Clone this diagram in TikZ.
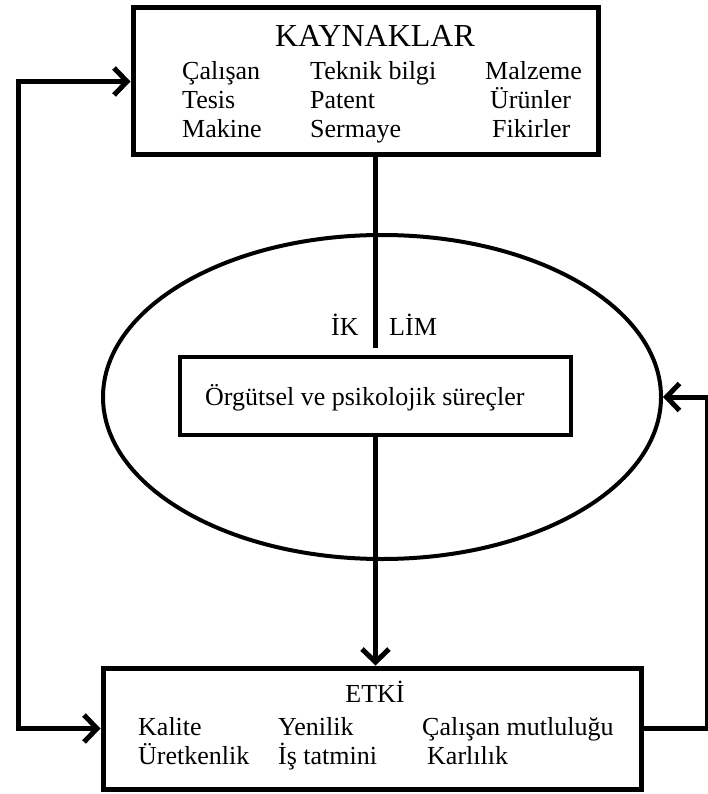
\documentclass[tikz,border=0pt]{standalone}
\usepackage{fontspec}
\setmainfont{Liberation Serif}
\usetikzlibrary{arrows.meta,shapes.geometric}
\begin{document}
\begin{tikzpicture}[x=1pt,y=-1pt,
  box/.style={draw, line width=5pt, inner sep=0pt},
  lbl/.style={anchor=base west, inner sep=0pt, font=\fontsize{26}{30}\selectfont},
  ttl/.style={anchor=base, inner sep=0pt, font=\fontsize{26}{30}\selectfont},
  conn/.style={line width=5pt},
  barb/.tip={Straight Barb[length=13pt,width=27pt]},
  tip/.style={-barb},
  tips/.style={barb-barb},
]
\useasboundingbox (0,0) rectangle (708,794);

% climate ellipse
\node[draw, ellipse, line width=4pt, inner sep=0pt,
      minimum width=558pt, minimum height=324pt] (ell) at (382,397) {};

% resources box
\node[box, minimum width=465pt, minimum height=147pt] (kay) at (365.5,81.5) {};
\node[ttl, font=\fontsize{32}{36}\selectfont] (k0) at (375,47) {KAYNAKLAR};
\node[lbl] (k11) at (182,80)  {Çalışan};
\node[lbl] (k12) at (310,80)  {Teknik bilgi};
\node[lbl] (k13) at (485,80)  {Malzeme};
\node[lbl] (k21) at (182,109) {Tesis};
\node[lbl] (k22) at (310,109) {Patent};
\node[lbl] (k23) at (490,109) {Ürünler};
\node[lbl] (k31) at (182,138) {Makine};
\node[lbl] (k32) at (310,138) {Sermaye};
\node[lbl] (k33) at (492,138) {Fikirler};

% processes box
\node[draw, line width=4.5pt, inner sep=0pt,
      minimum width=391pt, minimum height=78pt] (surec) at (375.5,396) {};
\node[lbl] (st) at (205,405) {Örgütsel ve psikolojik süreçler};

% climate label
\node[lbl] (ik) at (331,335) {İK};
\node[lbl] (lim) at (389,335) {LİM};

% effect box
\node[box, minimum width=538pt, minimum height=121pt] (etki) at (372,728.5) {};
\node[ttl] (e0) at (375,702) {ETKİ};
\node[lbl] (e11) at (138,735) {Kalite};
\node[lbl] (e12) at (278,735) {Yenilik};
\node[lbl] (e13) at (422,735) {Çalışan mutluluğu};
\node[lbl] (e21) at (138,764) {Üretkenlik};
\node[lbl] (e22) at (278,764) {İş tatmini};
\node[lbl] (e23) at (427,764) {Karlılık};

% connectors
\coordinate (iklim) at (375.5,348);
\draw[conn] (kay.south -| iklim) -- (iklim);
\draw[conn, tip] (surec.south) -- (etki.north -| surec.south);

\coordinate (lb) at (18,728.5);
\coordinate (lt) at (18,81.5);
\draw[conn, tips] (etki.west) -- (lb) -- (lt) -- (kay.west);

\coordinate (rb) at (707,728.5);
\coordinate (rt) at (707,397);
\draw[conn, tip] (etki.east) -- (rb) -- (rt) -- (ell.east);
\end{tikzpicture}
\end{document}
